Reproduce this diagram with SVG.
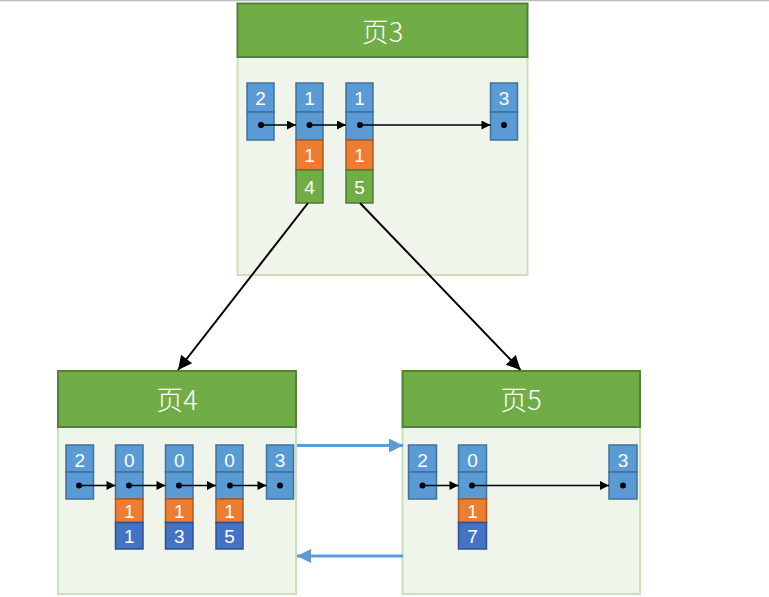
<svg xmlns="http://www.w3.org/2000/svg" width="769" height="597" viewBox="0 0 769 597">
<style>
.body{fill:#F0F5EB;stroke:#C9E0B8;stroke-width:2}
.hdr{fill:#70AD47;stroke:#548235;stroke-width:2}
.ht{font-family:"Noto Sans CJK SC","Liberation Sans",sans-serif;font-size:27px;font-weight:300;fill:#fff;text-anchor:middle}
.b{fill:#5B9BD5;stroke:#41719C;stroke-width:1.5}
.o{fill:#ED7D31;stroke:#AE5A21;stroke-width:1.5}
.g{fill:#70AD47;stroke:#507E32;stroke-width:1.5}
.d{fill:#4472C4;stroke:#2F528F;stroke-width:1.5}
.t{font-family:"Liberation Sans",Arial,sans-serif;font-size:19px;fill:#fff;text-anchor:middle}
.ln{stroke:#000;stroke-width:1.3;fill:none}
.dot{fill:#000}
.big{stroke:#000;stroke-width:2;fill:none}
.bl{stroke:#5B9BD5;stroke-width:3;fill:none}
</style>
<defs>
<marker id="ah" viewBox="0 0 10 10" refX="10" refY="5" markerWidth="11" markerHeight="9" markerUnits="userSpaceOnUse" orient="auto"><path d="M0,0 L10,5 L0,10 z" fill="#000"/></marker>
<marker id="ahb" viewBox="0 0 10 10" refX="10" refY="5" markerWidth="16" markerHeight="14" markerUnits="userSpaceOnUse" orient="auto"><path d="M0,0 L10,5 L0,10 z" fill="#000"/></marker>
<marker id="ahl" viewBox="0 0 10 10" refX="10" refY="5" markerWidth="15" markerHeight="14" markerUnits="userSpaceOnUse" orient="auto"><path d="M0,0 L10,5 L0,10 z" fill="#5B9BD5"/></marker>
</defs>
<line x1="0" y1="0.5" x2="769" y2="0.5" stroke="#BBBBBB" stroke-width="1.5"/>

<g id="page3">
<rect class="body" x="237.5" y="57" width="290" height="218"/>
<rect class="hdr" x="237.5" y="3.5" width="290" height="53.5"/>
<text class="ht" x="382.5" y="42">页3</text>
<rect class="b" x="247" y="83" width="27" height="29"/><text class="t" x="260.5" y="105">2</text>
<rect class="b" x="247" y="112" width="27" height="28"/>
<rect class="b" x="296" y="83" width="27" height="29"/><text class="t" x="309.5" y="105">1</text>
<rect class="b" x="296" y="112" width="27" height="28"/>
<rect class="o" x="296" y="140" width="27" height="30"/><text class="t" x="309.5" y="162">1</text>
<rect class="g" x="296" y="170" width="27" height="33"/><text class="t" x="309.5" y="194">4</text>
<rect class="b" x="346" y="83" width="27" height="29"/><text class="t" x="359.5" y="105">1</text>
<rect class="b" x="346" y="112" width="27" height="28"/>
<rect class="o" x="346" y="140" width="27" height="30"/><text class="t" x="359.5" y="162">1</text>
<rect class="g" x="346" y="170" width="27" height="33"/><text class="t" x="359.5" y="194">5</text>
<rect class="b" x="490.5" y="83" width="27" height="29"/><text class="t" x="504" y="105">3</text>
<rect class="b" x="490.5" y="112" width="27" height="28"/>
</g>

<g id="page4">
<rect class="body" x="58" y="427" width="238" height="167"/>
<rect class="hdr" x="58" y="371" width="238" height="56"/>
<text class="ht" x="177" y="410">页4</text>
<rect class="b" x="66" y="445" width="27.5" height="27"/><text class="t" x="79.8" y="467">2</text>
<rect class="b" x="66" y="472" width="27.5" height="27"/>
<rect class="b" x="115.5" y="445" width="27.5" height="27"/><text class="t" x="129.2" y="467">0</text>
<rect class="b" x="115.5" y="472" width="27.5" height="27"/>
<rect class="o" x="115.5" y="499" width="27.5" height="23.5"/><text class="t" x="129.2" y="518">1</text>
<rect class="d" x="115.5" y="522.5" width="27.5" height="26.5"/><text class="t" x="129.2" y="543">1</text>
<rect class="b" x="165.5" y="445" width="27.5" height="27"/><text class="t" x="179.2" y="467">0</text>
<rect class="b" x="165.5" y="472" width="27.5" height="27"/>
<rect class="o" x="165.5" y="499" width="27.5" height="23.5"/><text class="t" x="179.2" y="518">1</text>
<rect class="d" x="165.5" y="522.5" width="27.5" height="26.5"/><text class="t" x="179.2" y="543">3</text>
<rect class="b" x="216" y="445" width="27" height="27"/><text class="t" x="229.5" y="467">0</text>
<rect class="b" x="216" y="472" width="27" height="27"/>
<rect class="o" x="216" y="499" width="27" height="23.5"/><text class="t" x="229.5" y="518">1</text>
<rect class="d" x="216" y="522.5" width="27" height="26.5"/><text class="t" x="229.5" y="543">5</text>
<rect class="b" x="266.5" y="445" width="27" height="27"/><text class="t" x="280" y="467">3</text>
<rect class="b" x="266.5" y="472" width="27" height="27"/>
</g>

<g id="page5">
<rect class="body" x="402.5" y="427" width="237.5" height="167"/>
<rect class="hdr" x="402.5" y="371" width="237.5" height="56"/>
<text class="ht" x="521" y="410">页5</text>
<rect class="b" x="408.5" y="445" width="28" height="27"/><text class="t" x="422.5" y="467">2</text>
<rect class="b" x="408.5" y="472" width="28" height="27"/>
<rect class="b" x="458.5" y="445" width="28" height="27"/><text class="t" x="472.5" y="467">0</text>
<rect class="b" x="458.5" y="472" width="28" height="27"/>
<rect class="o" x="458.5" y="499" width="28" height="23.5"/><text class="t" x="472.5" y="518">1</text>
<rect class="d" x="458.5" y="522.5" width="28" height="26.5"/><text class="t" x="472.5" y="543">7</text>
<rect class="b" x="609" y="445" width="28" height="27"/><text class="t" x="623" y="467">3</text>
<rect class="b" x="609" y="472" width="28" height="27"/>
</g>

<g id="connectors">
<circle class="dot" cx="261" cy="125" r="3"/>
<circle class="dot" cx="309.5" cy="125" r="3"/>
<circle class="dot" cx="360" cy="125" r="3"/>
<circle class="dot" cx="504" cy="125" r="3"/>
<line class="ln" x1="261" y1="125" x2="296" y2="125" marker-end="url(#ah)"/>
<line class="ln" x1="309.5" y1="125" x2="346" y2="125" marker-end="url(#ah)"/>
<line class="ln" x1="360" y1="125" x2="490.5" y2="125" marker-end="url(#ah)"/>

<circle class="dot" cx="79" cy="485.5" r="3"/>
<circle class="dot" cx="129" cy="485.5" r="3"/>
<circle class="dot" cx="179" cy="485.5" r="3"/>
<circle class="dot" cx="230" cy="485.5" r="3"/>
<circle class="dot" cx="280" cy="485.5" r="3"/>
<line class="ln" x1="79" y1="485.5" x2="115.5" y2="485.5" marker-end="url(#ah)"/>
<line class="ln" x1="129" y1="485.5" x2="165.5" y2="485.5" marker-end="url(#ah)"/>
<line class="ln" x1="179" y1="485.5" x2="216" y2="485.5" marker-end="url(#ah)"/>
<line class="ln" x1="230" y1="485.5" x2="266.5" y2="485.5" marker-end="url(#ah)"/>

<circle class="dot" cx="422.5" cy="485.5" r="3"/>
<circle class="dot" cx="472" cy="485.5" r="3"/>
<circle class="dot" cx="623" cy="485.5" r="3"/>
<line class="ln" x1="422.5" y1="485.5" x2="458.5" y2="485.5" marker-end="url(#ah)"/>
<line class="ln" x1="472" y1="485.5" x2="609" y2="485.5" marker-end="url(#ah)"/>

<line class="big" x1="308" y1="203" x2="178" y2="370" marker-end="url(#ahb)"/>
<line class="big" x1="360" y1="203" x2="520.5" y2="370" marker-end="url(#ahb)"/>

<line class="bl" x1="297" y1="445.5" x2="403" y2="445.5" marker-end="url(#ahl)"/>
<line class="bl" x1="403" y1="556" x2="297" y2="556" marker-end="url(#ahl)"/>
</g>
</svg>
